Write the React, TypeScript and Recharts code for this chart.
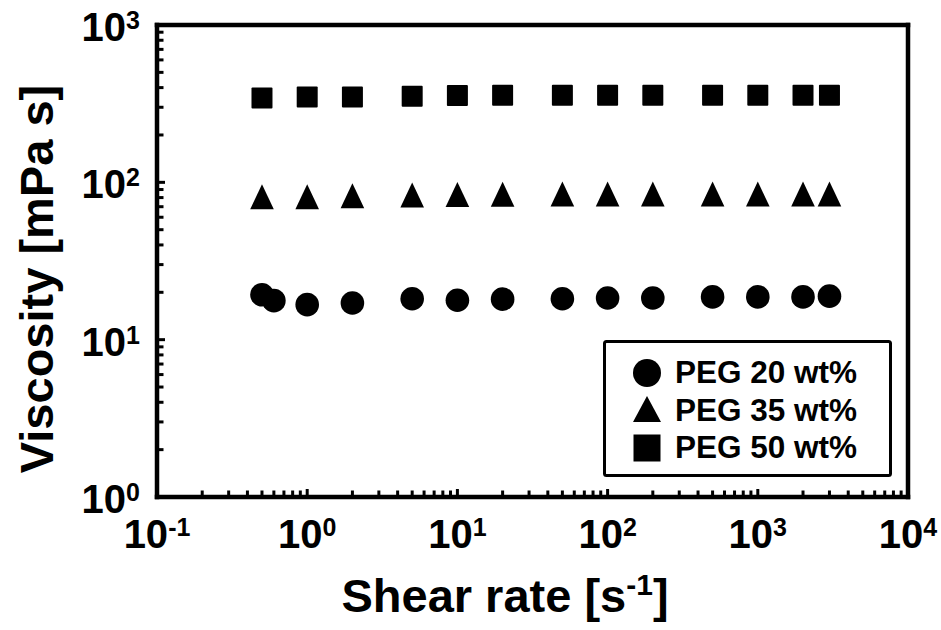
import { ScatterChart, Scatter, XAxis, YAxis, Legend, Label } from "recharts";

// shear rate [1/s] for each series
const rates20 = [0.5, 0.6, 1, 2, 5, 10, 20, 50, 100, 200, 500, 1000, 2000, 3000];
const rates35 = [0.5, 1, 2, 5, 10, 20, 50, 100, 200, 500, 1000, 2000, 3000];
const rates50 = [0.5, 1, 2, 5, 10, 20, 50, 100, 200, 500, 1000, 2000, 3000];

// viscosity [mPa s]
const visc20 = [19.3, 17.7, 16.7, 17.1, 18.2, 17.8, 18.1, 18.2, 18.4, 18.4, 18.7, 18.7, 18.7, 18.9];
const visc35 = [81, 81, 82.2, 83.2, 83.6, 84, 84.2, 84.2, 84.2, 84.2, 84.2, 84.2, 84.2];
const visc50 = [343, 348, 349, 353, 356, 358, 358, 358, 358, 358, 358, 358, 358];

const seriesNames = ["PEG 20 wt%", "PEG 35 wt%", "PEG 50 wt%"];

const xDecades = [-1, 0, 1, 2, 3, 4];
const yDecades = [0, 1, 2, 3];

const withMinors = (decades: number[]) =>
  decades.flatMap((d, i) =>
    i === decades.length - 1
      ? [Math.pow(10, d)]
      : [1, 2, 3, 4, 5, 6, 7, 8, 9].map((m) => m * Math.pow(10, d))
  );

const xTicks = withMinors(xDecades);
const yTicks = withMinors(yDecades);
const xDomain = [0.1, 10000];
const yDomain = [1, 1000];

const FONT = "'Liberation Sans', Arial, sans-serif";
const FRAME = { stroke: "#000", strokeWidth: 4.5, strokeLinecap: "square" as const };

const toPoints = (xs: number[], ys: number[]) => xs.map((x, i) => ({ x, y: ys[i] }));

const isMajor = (v: number) => {
  const e = Math.log10(v);
  return Math.abs(e - Math.round(e)) < 1e-6;
};

const XTick = ({ x, y, payload }: any) => {
  const v = payload.value;
  const major = isMajor(v);
  return (
    <g>
      <line x1={x} x2={x} y1={y} y2={y - (major ? 8 : 6.5)} stroke="#000" strokeWidth={3} />
      {major && (
        <text x={x} y={y + 51} textAnchor="middle" fontFamily={FONT} fontWeight="bold" fontSize={40} fill="#000">
          <tspan>10</tspan>
          <tspan dy={-12} fontSize={25}>{Math.round(Math.log10(v))}</tspan>
        </text>
      )}
    </g>
  );
};

const YTick = ({ x, y, payload }: any) => {
  const v = payload.value;
  const major = isMajor(v);
  return (
    <g>
      <line x1={x} x2={x + (major ? 8 : 6.5)} y1={y} y2={y} stroke="#000" strokeWidth={3} />
      {major && (
        <text x={x - 17} y={y + 16} textAnchor="end" fontFamily={FONT} fontWeight="bold" fontSize={40} fill="#000">
          <tspan>10</tspan>
          <tspan dy={-12} fontSize={25}>{Math.round(Math.log10(v))}</tspan>
        </text>
      )}
    </g>
  );
};

const Circle = ({ cx, cy }: any) => <circle cx={cx} cy={cy} r={11.8} fill="#000" />;
const Triangle = ({ cx, cy }: any) => (
  <polygon points={`${cx},${cy - 12.5} ${cx - 11.8},${cy + 12.5} ${cx + 11.8},${cy + 12.5}`} fill="#000" />
);
const Square = ({ cx, cy }: any) => <rect x={cx - 10.5} y={cy - 10.5} width={21} height={21} rx={1} fill="#000" />;

const LegendBox = () => (
  <svg width={289} height={137} style={{ display: "block" }}>
    <rect x={1.5} y={1.5} width={286} height={134} rx={2} fill="#fff" stroke="#000" strokeWidth={3} />
    <circle cx={44} cy={33} r={14} fill="#000" />
    <polygon points="44,56 30,82 58,82" fill="#000" />
    <rect x={30.5} y={94.5} width={27} height={27} fill="#000" />
    {seriesNames.map((name, i) => (
      <text key={name} x={72} y={43 + i * 37.5} fontFamily={FONT} fontWeight="bold" fontSize={31.5} fill="#000">
        {name}
      </text>
    ))}
  </svg>
);

export default function App() {
  return (
    <div style={{ position: "absolute", left: 0, top: 0, width: 941, height: 630, background: "#fff" }}>
      <ScatterChart width={941} height={630} margin={{ top: 24, right: 32, bottom: 73, left: 97 }}>
        <XAxis
          type="number"
          dataKey="x"
          scale="log"
          domain={xDomain}
          ticks={xTicks}
          interval={0}
          allowDataOverflow
          height={60}
          tickSize={0}
          tickMargin={0}
          tickLine={false}
          axisLine={FRAME}
          tick={<XTick />}
        >
          <Label
            content={() => (
              <text x={505} y={612} textAnchor="middle" fontFamily={FONT} fontWeight="bold" fontSize={47} fill="#000">
                <tspan>Shear rate [s</tspan>
                <tspan dy={-17} fontSize={30}>-1</tspan>
                <tspan dy={17}>]</tspan>
              </text>
            )}
          />
        </XAxis>
        <XAxis
          xAxisId="top"
          orientation="top"
          type="number"
          scale="log"
          domain={xDomain}
          allowDataOverflow
          height={1}
          tick={false}
          tickLine={false}
          axisLine={FRAME}
        />
        <YAxis
          type="number"
          dataKey="y"
          scale="log"
          domain={yDomain}
          ticks={yTicks}
          interval={0}
          allowDataOverflow
          width={60}
          tickSize={0}
          tickMargin={0}
          tickLine={false}
          axisLine={FRAME}
          tick={<YTick />}
        >
          <Label
            content={() => (
              <text
                x={53}
                y={279}
                transform="rotate(-90, 53, 279)"
                textAnchor="middle"
                fontFamily={FONT}
                fontWeight="bold"
                fontSize={47}
                fill="#000"
              >
                Viscosity [mPa s]
              </text>
            )}
          />
        </YAxis>
        <YAxis
          yAxisId="right"
          orientation="right"
          type="number"
          scale="log"
          domain={yDomain}
          allowDataOverflow
          width={1}
          tick={false}
          tickLine={false}
          axisLine={FRAME}
        />
        <Legend
          layout="vertical"
          align="center"
          verticalAlign="middle"
          wrapperStyle={{ position: "absolute", left: 603, top: 340, width: 289, height: 137 }}
          content={() => <LegendBox />}
        />
        <Scatter name={seriesNames[0]} data={toPoints(rates20, visc20)} shape={<Circle />} isAnimationActive={false} />
        <Scatter name={seriesNames[1]} data={toPoints(rates35, visc35)} shape={<Triangle />} isAnimationActive={false} />
        <Scatter name={seriesNames[2]} data={toPoints(rates50, visc50)} shape={<Square />} isAnimationActive={false} />
      </ScatterChart>
    </div>
  );
}
